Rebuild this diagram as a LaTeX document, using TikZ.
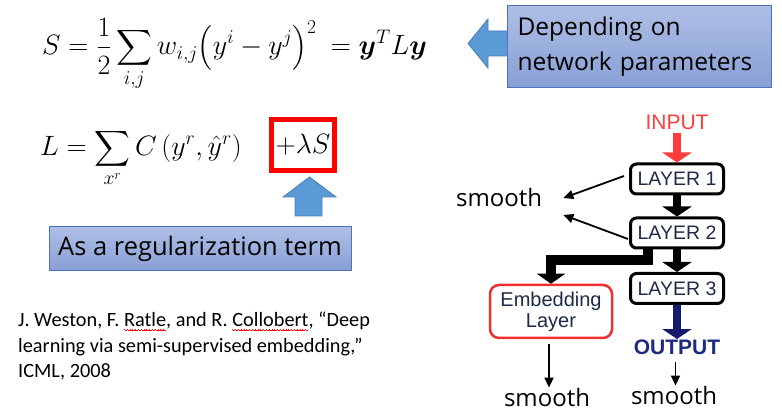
\RequirePackage{fix-cm}
\documentclass[tikz,border=0pt]{standalone}
\usepackage{amsmath}
\usepackage{fontspec}
\setmainfont{Carlito}
\newfontfamily\opensans{Open Sans}
\newfontfamily\libsans{Liberation Sans}
\usetikzlibrary{arrows.meta,calc}
\newsavebox\sqbox
\newcommand\wavebit{\hbox{\rule[-3.0pt]{0.7pt}{0.7pt}\rule[-3.5pt]{0.7pt}{0.7pt}\rule[-4.0pt]{0.7pt}{0.7pt}\rule[-3.5pt]{0.7pt}{0.7pt}}}
\newcommand\redsquig[1]{\sbox\sqbox{#1}\rlap{\color{red}\leaders\wavebit\hskip\wd\sqbox}#1}
\definecolor{boxtop}{HTML}{AEBFE6}
\definecolor{boxbot}{HTML}{889FD5}
\definecolor{boxborder}{HTML}{4F71B8}
\definecolor{arrowblue}{HTML}{5B9BD5}
\definecolor{arrowborder}{HTML}{4A7DB5}
\definecolor{layertext}{HTML}{1F2A48}
\definecolor{inred}{HTML}{FF3B3B}
\definecolor{embred}{HTML}{F03030}
\definecolor{outnavy}{HTML}{1E2A80}
\definecolor{arrnavy}{HTML}{141A6E}
\begin{document}
\begin{tikzpicture}[x=1pt,y=-1pt,
  mathfont/.style={font=\fontsize{28}{32}\selectfont},
  bluebox/.style={draw=boxborder, line width=1pt, top color=boxtop, bottom color=boxbot},
  blockarrow/.style={fill=arrowblue, draw=arrowborder, line width=0.8pt},
  layer/.style={draw, line width=3pt, rounded corners=6pt, fill=white, minimum width=93, minimum height=30, inner sep=0, font=\libsans\fontsize{19.5}{22}\selectfont, text=layertext},
  fat/.style={line width=8.5pt, -{Triangle[length=10pt,width=29pt]}},
  thinarr/.style={line width=1.8pt, -{Triangle[length=10pt,width=9pt]}},
  smoothtxt/.style={font=\opensans\fontsize{24}{28}\selectfont, inner sep=1pt}
]
\useasboundingbox (0,0) rectangle (782,419);
\fill[white] (0,0) rectangle (782,419);

% formula S
\node[anchor=base west, inner sep=0, mathfont] (sform) at (42,55)
  {$\displaystyle S=\frac{1}{2}\sum_{i,j} w_{i,j}\bigl(y^i-y^j\bigr)^2\ =\boldsymbol{y}^T L\boldsymbol{y}$};

% left block arrow + box
\draw[blockarrow] (510,31) -- (488,31) -- (488,19) -- (468,43.5) -- (488,68) -- (488,56) -- (510,56) -- cycle;
\node[bluebox, anchor=north west, minimum width=264, minimum height=82, inner xsep=10pt, text width=244, align=left,
  font=\opensans\fontsize{24.5}{35}\selectfont] (dep) at (507,5) {Depending on\\network parameters};

% formula L
\node[anchor=base west, inner sep=0, mathfont] (lform) at (40,156)
  {$\displaystyle L=\sum_{x^r} C\,(y^r,\hat{y}^r)$};
\node[draw=red, line width=5pt, minimum width=63, minimum height=51, inner sep=0, mathfont] (lam) at (303,145) {$+\lambda S$};

% up block arrow + box
\draw[blockarrow] (295,216) -- (295,197) -- (283,197) -- (309.5,177) -- (336,197) -- (322,197) -- (322,216) -- cycle;
\node[bluebox, minimum width=302, minimum height=44, font=\opensans\fontsize{25.5}{28}\selectfont] (reg) at (200,249) {As a regularization term};

% reference
\node[anchor=north west, inner sep=0, align=left, font=\fontsize{20.3}{25.5}\selectfont] (ref) at (18,312)
  {J. Weston, F. \redsquig{Ratle}, and R. \redsquig{Collobert}, “Deep\\learning via semi-supervised embedding,”\\ICML, 2008};

% network
\node[font=\libsans\fontsize{21}{24}\selectfont, text=inred] (inp) at (677,122) {INPUT};
\node[layer] (l1) at (677,179) {LAYER 1};
\node[layer] (l2) at (677,233) {LAYER 2};
\node[layer] (l3) at (677,288.5) {LAYER 3};
\node[draw=embred, line width=2.5pt, rounded corners=9pt, minimum width=122, minimum height=53, inner sep=0, align=center,
  font=\libsans\fontsize{20}{21}\selectfont, text=layertext] (emb) at (551,311.5) {Embedding\\Layer};
\node[font=\libsans\bfseries\fontsize{21}{24}\selectfont, text=outnavy] (out) at (677,347.5) {OUTPUT};

\node[smoothtxt, anchor=base west] (s1) at (455,207) {smooth};
\node[smoothtxt, anchor=base] (s2) at (547,407) {smooth};
\node[smoothtxt, anchor=base] (s3) at (674,405) {smooth};

\draw[fat, inred] (inp.south) -- (l1.north);
\draw[fat] (l1.south) -- (l2.north);
\draw[fat] (l2.south) -- (l3.north);
\draw[line width=10pt, -{Triangle[length=10pt,width=28pt]}] ([xshift=-29pt]l2.south) -- ++(0,11) -| (emb.north);
\draw[fat, arrnavy, shorten >=-2.5pt] (l3.south) -- (out.north);

\draw[thinarr] ($(l1.west)+(-5,-3)$) -- ($(s1.east)+(20,0)$);
\draw[thinarr] ($(l2.west)+(-1,6)$) -- ($(s1.east)+(20,17)$);
\draw[thinarr] ($(emb.south)+(-2,5)$) -- ($(s2.north)+(2,0)$);
\draw[thinarr] ($(out.south)+(-1.5,4)$) -- ($(s3.north)+(1.5,0)$);
\end{tikzpicture}
\end{document}
